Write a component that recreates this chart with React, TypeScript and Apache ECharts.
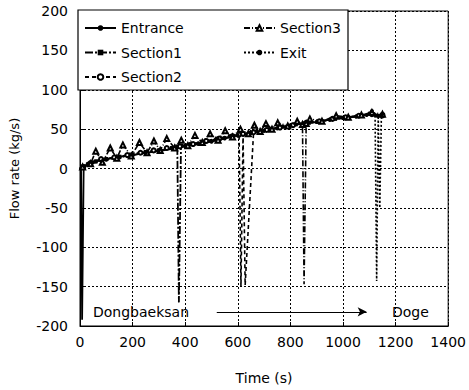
import React, { useEffect, useRef } from "react";
import * as echarts from "echarts";

// Entrance
const entranceT = [4, 8, 14, 30, 60, 100, 150, 200, 250, 300, 350, 400, 450, 500, 550, 600, 650, 700, 750, 800, 850, 900, 950, 1000, 1050, 1100, 1130, 1150];
const entranceV = [0, -192, 2, 6, 9, 12, 15, 17, 20, 22, 25, 28, 31, 34, 38, 42, 45, 48, 51, 55, 57, 59, 62, 64, 66, 70, 67, 66];

// Section1
const section1T = [10, 30, 60, 100, 150, 200, 250, 300, 350, 370, 376, 384, 420, 470, 520, 570, 620, 670, 720, 770, 820, 870, 920, 970, 1020, 1070, 1110, 1150];
const section1V = [1, 5, 9, 12, 15, 18, 21, 23, 26, 28, -170, 29, 31, 34, 38, 41, 44, 47, 50, 53, 56, 58, 60, 63, 65, 67, 69, 67];

// Section2
const section2T = [12, 40, 80, 130, 180, 230, 280, 330, 380, 430, 480, 530, 580, 605, 612, 620, 628, 660, 710, 760, 810, 860, 910, 960, 1010, 1060, 1110, 1150];
const section2V = [2, 7, 12, 14, 17, 20, 23, 26, 28, 31, 35, 38, 41, 43, -150, 44, -148, 46, 49, 52, 55, 58, 60, 63, 65, 67, 69, 68];

// Section3
const section3T = [10, 40, 60, 85, 115, 140, 163, 195, 226, 255, 281, 305, 330, 360, 385, 410, 437, 465, 495, 525, 552, 580, 610, 640, 663, 685, 707, 730, 752, 790, 826, 846, 852, 860, 874, 920, 974, 1020, 1070, 1110, 1150];
const section3V = [2, 6, 22, 8, 26, 13, 30, 16, 33, 20, 35, 23, 38, 26, 36, 29, 42, 33, 44, 36, 48, 40, 50, 44, 55, 47, 57, 50, 58, 54, 60, 56, -147, 57, 63, 60, 67, 65, 68, 71, 69];

// Exit
const exitT = [15, 50, 100, 150, 200, 250, 300, 350, 400, 450, 500, 550, 600, 650, 700, 750, 800, 850, 900, 950, 1000, 1050, 1090, 1110, 1122, 1128, 1134, 1140, 1146];
const exitV = [3, 8, 11, 14, 17, 20, 23, 26, 29, 32, 35, 39, 42, 45, 48, 51, 54, 57, 59, 62, 64, 66, 68, 73, 68, -143, 67, -50, 68];

// Direction annotation (data units)
const arrowFrom = [520, -182];
const arrowTo = [1090, -182];

const zip = (t: number[], v: number[]) =>
  t.map((x, i) => (v[i] < -20 ? { value: [x, v[i]], symbol: "none" } : [x, v[i]]));

export default function App() {
  const ref = useRef<HTMLDivElement>(null);
  useEffect(() => {
    if (!ref.current) return;
    const chart = echarts.init(ref.current, null, { renderer: "svg" });
    const font = "'DejaVu Sans', sans-serif";
    const lineBase = (type: any, width = 1.6) => ({ color: "#000", width, type });
    const legendCommon = {
      orient: "vertical",
      top: 21,
      padding: 0,
      itemGap: 10.5,
      itemWidth: 31,
      itemHeight: 7,
      z: 10,
      textStyle: { color: "#000", fontFamily: font, fontSize: 14 },
    };
    chart.setOption({
      animation: false,
      backgroundColor: "#fff",
      grid: {
        left: 79,
        right: 13,
        top: 11,
        bottom: 64,
        show: true,
        borderColor: "#000",
        borderWidth: 1,
        backgroundColor: "transparent",
      },
      xAxis: {
        type: "value",
        min: 0,
        max: 1400,
        interval: 200,
        name: "Time (s)",
        nameLocation: "middle",
        nameGap: 45,
        nameTextStyle: { color: "#000", fontFamily: font, fontSize: 14 },
        axisLine: { onZero: false, lineStyle: { color: "#000", width: 1 } },
        axisTick: { inside: true, length: 4, lineStyle: { color: "#000" } },
        axisLabel: { color: "#000", fontFamily: font, fontSize: 14, margin: 9, formatter: (v: number) => String(v) },
        splitLine: { show: true, lineStyle: { color: "#000", type: [2, 2], width: 1 } },
      },
      yAxis: {
        type: "value",
        min: -200,
        max: 200,
        interval: 50,
        name: "Flow rate (kg/s)",
        nameLocation: "middle",
        nameGap: 59,
        nameTextStyle: { color: "#000", fontFamily: font, fontSize: 13 },
        axisLine: { onZero: false, lineStyle: { color: "#000", width: 1 } },
        axisTick: { inside: true, length: 4, lineStyle: { color: "#000" } },
        axisLabel: { color: "#000", fontFamily: font, fontSize: 14, margin: 12, formatter: (v: number) => String(v) },
        splitLine: { show: true, lineStyle: { color: "#000", type: [2, 2], width: 1 } },
      },
      legend: [
        { ...legendCommon, data: ["Entrance", "Section1", "Section2"], left: 84 },
        { ...legendCommon, data: ["Section3", "Exit"], left: 243 },
      ],
      graphic: [
        {
          type: "rect",
          z: 5,
          shape: { x: 78, y: 10, width: 270, height: 80 },
          style: { fill: "#fff", stroke: "#000", lineWidth: 1.2 },
        },
        {
          type: "text",
          z: 6,
          x: 93,
          y: 305,
          style: { text: "Dongbaeksan", fill: "#000", font: `14px ${font}` },
        },
        {
          type: "text",
          z: 6,
          x: 392,
          y: 305,
          style: { text: "Doge", fill: "#000", font: `14px ${font}` },
        },
      ],
      series: [
        {
          name: "Entrance",
          type: "line",
          data: zip(entranceT, entranceV),
          symbol: "circle",
          symbolSize: 4,
          itemStyle: { color: "#000" },
          lineStyle: lineBase("solid", 1.8),
          z: 3,
          markLine: {
            silent: true,
            symbol: ["none", "arrow"],
            symbolSize: [7, 9],
            label: { show: false },
            lineStyle: { color: "#000", width: 1, type: "solid" },
            data: [[{ coord: arrowFrom }, { coord: arrowTo }]],
          },
        },
        {
          name: "Section1",
          type: "line",
          data: zip(section1T, section1V),
          symbol: "rect",
          symbolSize: 4,
          itemStyle: { color: "#000" },
          lineStyle: lineBase([8, 2, 2, 2], 1.8),
          z: 3,
        },
        {
          name: "Section2",
          type: "line",
          data: zip(section2T, section2V),
          symbol: "emptyCircle",
          symbolSize: 4,
          itemStyle: { color: "#000", borderColor: "#000" },
          lineStyle: lineBase([4, 3], 1.6),
          z: 3,
        },
        {
          name: "Section3",
          type: "line",
          data: zip(section3T, section3V),
          symbol: "emptyTriangle",
          symbolSize: 5,
          itemStyle: { color: "#000", borderColor: "#000" },
          lineStyle: lineBase([6, 2, 1, 2], 1.6),
          z: 3,
        },
        {
          name: "Exit",
          type: "line",
          data: zip(exitT, exitV),
          symbol: "circle",
          symbolSize: 4,
          itemStyle: { color: "#000" },
          lineStyle: lineBase([2, 2], 1.6),
          z: 3,
        },
      ],
    });
    return () => chart.dispose();
  }, []);
  return <div ref={ref} style={{ width: 469, height: 390, position: "absolute", left: 0, top: 0 }} />;
}
